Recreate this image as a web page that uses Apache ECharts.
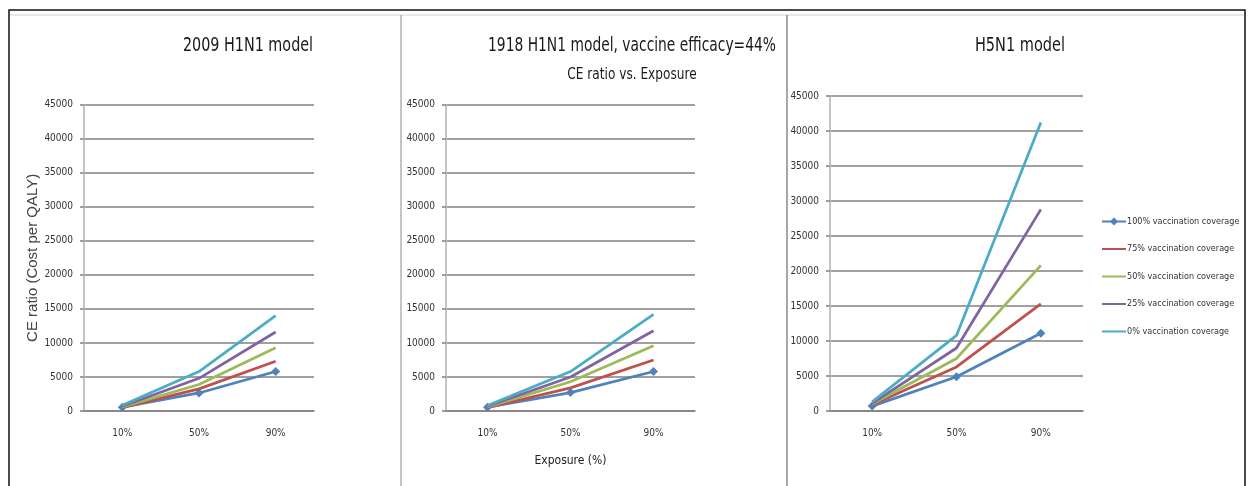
<!DOCTYPE html>
<html>
<head>
<meta charset="utf-8">
<script src="https://cdn.jsdelivr.net/npm/echarts@6/dist/echarts.min.js"></script>
<style>
  html, body { margin: 0; padding: 0; background: #fff; }
  #chart { width: 1249px; height: 486px; }
</style>
</head>
<body>
<div id="chart"></div>
<script>
// Exposure levels shared by all three panels
const exposure = ['10%', '50%', '90%'];

// Coverage scenarios (legend entries)
const coverageNames = [
  '100% vaccination coverage',
  '75% vaccination coverage',
  '50% vaccination coverage',
  '25% vaccination coverage',
  '0% vaccination coverage'
];

// CE ratio (cost per QALY), 2009 H1N1 model
const h1n1_2009_cov100 = [550, 2650, 5800];
const h1n1_2009_cov75  = [500, 3250, 7300];
const h1n1_2009_cov50  = [600, 3900, 9300];
const h1n1_2009_cov25  = [700, 4800, 11600];
const h1n1_2009_cov0   = [850, 5800, 14000];

// CE ratio, 1918 H1N1 model (vaccine efficacy 44%)
const h1n1_1918_cov100 = [550, 2700, 5800];
const h1n1_1918_cov75  = [500, 3400, 7500];
const h1n1_1918_cov50  = [600, 4300, 9600];
const h1n1_1918_cov25  = [700, 5000, 11800];
const h1n1_1918_cov0   = [800, 5800, 14200];

// CE ratio, H5N1 model
const h5n1_cov100 = [700, 4900, 11100];
const h5n1_cov75  = [900, 6300, 15300];
const h5n1_cov50  = [1000, 7500, 20800];
const h5n1_cov25  = [1100, 9000, 28800];
const h5n1_cov0   = [1300, 10800, 41200];

// Y axis ticks
const yMin = 0, yMax = 45000, yStep = 5000;

const panelSeries = [
  [h1n1_2009_cov100, h1n1_2009_cov75, h1n1_2009_cov50, h1n1_2009_cov25, h1n1_2009_cov0],
  [h1n1_1918_cov100, h1n1_1918_cov75, h1n1_1918_cov50, h1n1_1918_cov25, h1n1_1918_cov0],
  [h5n1_cov100, h5n1_cov75, h5n1_cov50, h5n1_cov25, h5n1_cov0]
];

const colors = ['#4F81BD', '#C0504D', '#9BBB59', '#8064A2', '#4BACC6'];
const narrow = '"DejaVu Sans Condensed", "Liberation Sans Narrow", sans-serif';
const gridColor = '#808080';

const grids = [
  { left: 84,  width: 230, top: 104.7, height: 306.3 },
  { left: 446, width: 249, top: 104.7, height: 306.3 },
  { left: 830, width: 253, top: 96,    height: 315 }
];

const xAxes = grids.map((g, i) => ({
  type: 'category',
  gridIndex: i,
  data: exposure,
  boundaryGap: true,
  axisLine: { show: true, lineStyle: { color: gridColor, width: 1.5 } },
  axisTick: { show: false },
  axisLabel: { color: '#333', fontFamily: narrow, fontSize: 10, margin: 17 },
  name: i === 1 ? 'Exposure (%)' : '',
  nameLocation: 'middle',
  nameGap: 44,
  nameTextStyle: { color: '#222', fontFamily: narrow, fontSize: 12 }
}));

const yAxes = grids.map((g, i) => ({
  type: 'value',
  gridIndex: i,
  min: yMin,
  max: yMax,
  interval: yStep,
  axisLine: { show: true, lineStyle: { color: '#c4c4c4', width: 2 } },
  axisTick: { show: true, length: 4, lineStyle: { color: gridColor, width: 1.5 } },
  splitLine: { show: true, lineStyle: { color: gridColor, width: 1.5 } },
  axisLabel: { color: '#333', fontFamily: narrow, fontSize: 10, margin: 11, formatter: v => String(v) },
  name: i === 0 ? 'CE ratio (Cost per QALY)' : '',
  nameLocation: 'middle',
  nameGap: 36,
  nameTextStyle: { color: '#444', fontFamily: '"Liberation Sans", Arial, sans-serif', fontSize: 15 }
}));

const series = [];
panelSeries.forEach((list, p) => {
  list.forEach((vals, k) => {
    series.push({
      name: coverageNames[k],
      type: 'line',
      xAxisIndex: p,
      yAxisIndex: p,
      data: vals,
      color: colors[k],
      lineStyle: { width: 2.75, color: colors[k] },
      symbol: k === 0 ? 'diamond' : 'none',
      symbolSize: 9,
      showSymbol: k === 0,
      itemStyle: { color: colors[k] },
      animation: false,
      z: 2 + k
    });
  });
});

// legend: only the 100% series carries a marker
const legendData = coverageNames.map((n, k) => k === 0
  ? { name: n }
  : { name: n, itemStyle: { color: 'transparent', borderColor: 'transparent', borderWidth: 0 } });

const titleFont = '19px ' + narrow;
const chart = echarts.init(document.getElementById('chart'), null, { renderer: 'canvas' });
chart.setOption({
  backgroundColor: '#fff',
  animation: false,
  grid: grids,
  xAxis: xAxes,
  yAxis: yAxes,
  series: series,
  legend: {
    data: legendData,
    orient: 'vertical',
    left: 1096,
    top: 212,
    itemWidth: 24,
    itemHeight: 10,
    itemGap: 18.5,
    textStyle: { color: '#333', fontFamily: narrow, fontSize: 9, padding: [0, 0, 0, -4] }
  },
  graphic: [
    // outer frame and panel dividers
    { type: 'rect', shape: { x: 9, y: 10, width: 1236, height: 490 },
      style: { fill: 'none', stroke: '#111', lineWidth: 1.5 }, silent: true },
    { type: 'line', shape: { x1: 10, y1: 15, x2: 1244, y2: 15 },
      style: { stroke: '#d0d0d0', lineWidth: 1 }, silent: true },
    { type: 'line', shape: { x1: 401, y1: 15, x2: 401, y2: 486 },
      style: { stroke: '#8a8a8a', lineWidth: 1 }, silent: true },
    { type: 'line', shape: { x1: 787, y1: 15, x2: 787, y2: 486 },
      style: { stroke: '#8a8a8a', lineWidth: 1.5 }, silent: true },
    // panel titles
    { type: 'text', x: 248, y: 46, scaleX: 0.84, style: { text: '2009 H1N1 model', textAlign: 'center', textVerticalAlign: 'middle',
      font: titleFont, fill: '#1a1a1a' } },
    { type: 'text', x: 632, y: 46, scaleX: 0.81, style: { text: '1918 H1N1 model, vaccine efficacy=44%', textAlign: 'center', textVerticalAlign: 'middle',
      font: titleFont, fill: '#1a1a1a' } },
    { type: 'text', x: 632, y: 75, scaleX: 0.9, style: { text: 'CE ratio vs. Exposure', textAlign: 'center', textVerticalAlign: 'middle',
      font: '15px ' + narrow, fill: '#1a1a1a' } },
    { type: 'text', x: 1020, y: 46, scaleX: 0.85, style: { text: 'H5N1 model', textAlign: 'center', textVerticalAlign: 'middle',
      font: titleFont, fill: '#1a1a1a' } }
  ]
});
</script>
</body>
</html>
